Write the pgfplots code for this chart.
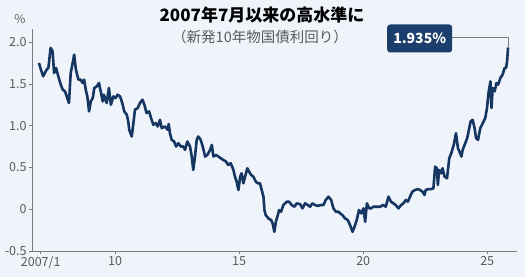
\documentclass[border=0pt]{standalone}
\usepackage{pgfplots}
\pgfplotsset{compat=1.18}
\usepackage{fontspec}
\setmainfont{Noto Sans CJK JP}
\definecolor{bg}{RGB}{238,244,250}
\definecolor{navy}{RGB}{22,54,98}
\definecolor{boxblue}{RGB}{28,62,108}
\definecolor{lblgray}{RGB}{90,90,90}
\definecolor{axgray}{RGB}{120,125,130}
\begin{document}
\begin{tikzpicture}
\fill[bg] (0pt,0pt) rectangle (525pt,277pt);
\useasboundingbox (0pt,0pt) rectangle (525pt,277pt);
\node[font=\bfseries\fontsize{17}{17}\selectfont] at (262pt,262pt) {2007年7月以来の高水準に};
\node[font=\fontsize{14.5}{14.5}\selectfont, text=lblgray] at (260pt,240pt) {（新発10年物国債利回り）};
\node[font=\fontsize{12}{12}\selectfont, text=lblgray] at (20pt,258pt) {\%};
\begin{axis}[at={(32pt,26pt)}, anchor=south west, scale only axis,
  width=485pt, height=222pt,
  xmin=2006.65, xmax=2026.2, ymin=-0.5, ymax=2.156,
  axis lines*=left,
  axis line style={axgray, line width=0.8pt},
  xtick={2007,2010,2015,2020,2025},
  xticklabels={2007/1,10,15,20,25},
  ytick={-0.5,0,0.5,1,1.5,2},
  yticklabels={-0.5,0,0.5,1.0,1.5,2.0},
  tick align=outside, major tick length=3pt,
  tick style={axgray, line width=0.6pt},
  /pgf/number format/assume math mode=true,
  tick label style={font=\fontsize{12.5}{13}\selectfont, text=lblgray},
  xticklabel style={yshift=1pt},
  yticklabel style={xshift=1pt},
  clip=false,
]
\addplot[navy, line width=2.6pt, line join=round] table {
2006.93 1.75
2007.01 1.67
2007.10 1.59
2007.24 1.67
2007.31 1.69
2007.40 1.93
2007.48 1.89
2007.54 1.63
2007.62 1.69
2007.71 1.59
2007.81 1.49
2007.89 1.43
2007.98 1.41
2008.05 1.35
2008.14 1.27
2008.21 1.63
2008.29 1.75
2008.35 1.85
2008.42 1.67
2008.52 1.55
2008.61 1.55
2008.69 1.51
2008.75 1.55
2008.83 1.41
2008.88 1.35
2008.95 1.17
2009.02 1.29
2009.10 1.33
2009.16 1.45
2009.26 1.47
2009.35 1.51
2009.42 1.41
2009.50 1.29
2009.55 1.37
2009.66 1.27
2009.75 1.45
2009.83 1.25
2009.93 1.35
2010.02 1.33
2010.10 1.37
2010.20 1.35
2010.29 1.27
2010.37 1.17
2010.47 1.13
2010.53 1.05
2010.57 0.95
2010.67 0.87
2010.73 1.01
2010.80 1.19
2010.91 1.21
2011.00 1.27
2011.10 1.31
2011.18 1.25
2011.27 1.15
2011.37 1.17
2011.45 1.09
2011.54 1.01
2011.64 1.03
2011.72 0.99
2011.81 1.07
2011.88 0.97
2012.01 0.99
2012.12 0.95
2012.16 1.02
2012.21 0.91
2012.28 0.83
2012.38 0.81
2012.46 0.75
2012.55 0.79
2012.65 0.75
2012.75 0.75
2012.82 0.71
2012.91 0.81
2013.02 0.75
2013.09 0.63
2013.15 0.47
2013.22 0.63
2013.29 0.83
2013.35 0.87
2013.45 0.83
2013.53 0.75
2013.63 0.63
2013.72 0.65
2013.83 0.71
2013.90 0.77
2013.96 0.63
2014.07 0.65
2014.16 0.63
2014.26 0.61
2014.36 0.59
2014.47 0.57
2014.56 0.53
2014.66 0.55
2014.77 0.47
2014.83 0.39
2014.90 0.33
2014.97 0.23
2015.04 0.39
2015.10 0.43
2015.17 0.31
2015.24 0.39
2015.33 0.49
2015.40 0.45
2015.48 0.41
2015.57 0.39
2015.67 0.33
2015.75 0.31
2015.84 0.31
2015.91 0.23
2015.98 0.15
2016.02 -0.01
2016.07 -0.07
2016.18 -0.11
2016.29 -0.13
2016.35 -0.17
2016.42 -0.27
2016.48 -0.15
2016.56 -0.07
2016.61 -0.01
2016.69 -0.03
2016.78 0.05
2016.92 0.09
2017.01 0.09
2017.12 0.05
2017.23 0.03
2017.32 0.07
2017.46 0.06
2017.55 0.01
2017.66 0.07
2017.77 0.05
2017.86 0.03
2017.95 0.07
2018.06 0.05
2018.17 0.04
2018.30 0.05
2018.40 0.05
2018.49 0.11
2018.60 0.15
2018.71 0.11
2018.80 0.01
2018.90 -0.03
2019.00 -0.03
2019.07 -0.05
2019.16 -0.07
2019.27 -0.11
2019.38 -0.13
2019.47 -0.19
2019.57 -0.27
2019.65 -0.21
2019.74 -0.13
2019.83 -0.01
2019.92 -0.05
2020.01 0.01
2020.08 -0.15
2020.15 0.07
2020.24 0.01
2020.32 0.01
2020.41 0.03
2020.55 0.03
2020.68 0.03
2020.81 0.05
2020.91 0.03
2021.02 0.15
2021.12 0.09
2021.22 0.07
2021.31 0.05
2021.42 0.01
2021.53 0.05
2021.62 0.07
2021.72 0.11
2021.80 0.09
2021.89 0.15
2021.98 0.21
2022.09 0.23
2022.20 0.24
2022.29 0.23
2022.39 0.21
2022.47 0.17
2022.52 0.23
2022.63 0.24
2022.74 0.24
2022.83 0.25
2022.90 0.51
2022.97 0.49
2023.01 0.29
2023.06 0.47
2023.15 0.43
2023.20 0.49
2023.28 0.39
2023.38 0.37
2023.47 0.61
2023.55 0.67
2023.65 0.77
2023.74 0.91
2023.82 0.73
2023.88 0.69
2023.96 0.63
2024.01 0.71
2024.09 0.77
2024.19 0.85
2024.25 0.93
2024.33 1.05
2024.41 1.07
2024.49 0.97
2024.55 0.85
2024.63 0.83
2024.72 0.97
2024.82 1.03
2024.92 1.09
2024.99 1.21
2025.06 1.41
2025.13 1.53
2025.17 1.21
2025.22 1.45
2025.30 1.41
2025.37 1.51
2025.44 1.49
2025.53 1.57
2025.62 1.61
2025.70 1.69
2025.76 1.69
2025.80 1.77
2025.84 1.935
};
\coordinate (E) at (axis cs:2025.84,1.935);
\end{axis}
\draw[axgray, line width=0.6pt] (E) -- ++(0pt,10pt) -- ++(-55.6pt,0pt)
  node[anchor=east, yshift=-1pt, fill=boxblue, rounded corners=3pt, text=white,
       font=\bfseries\fontsize{14}{14}\selectfont, minimum height=28pt, minimum width=65pt, inner xsep=3pt] {1.935\%};
\end{tikzpicture}
\end{document}
